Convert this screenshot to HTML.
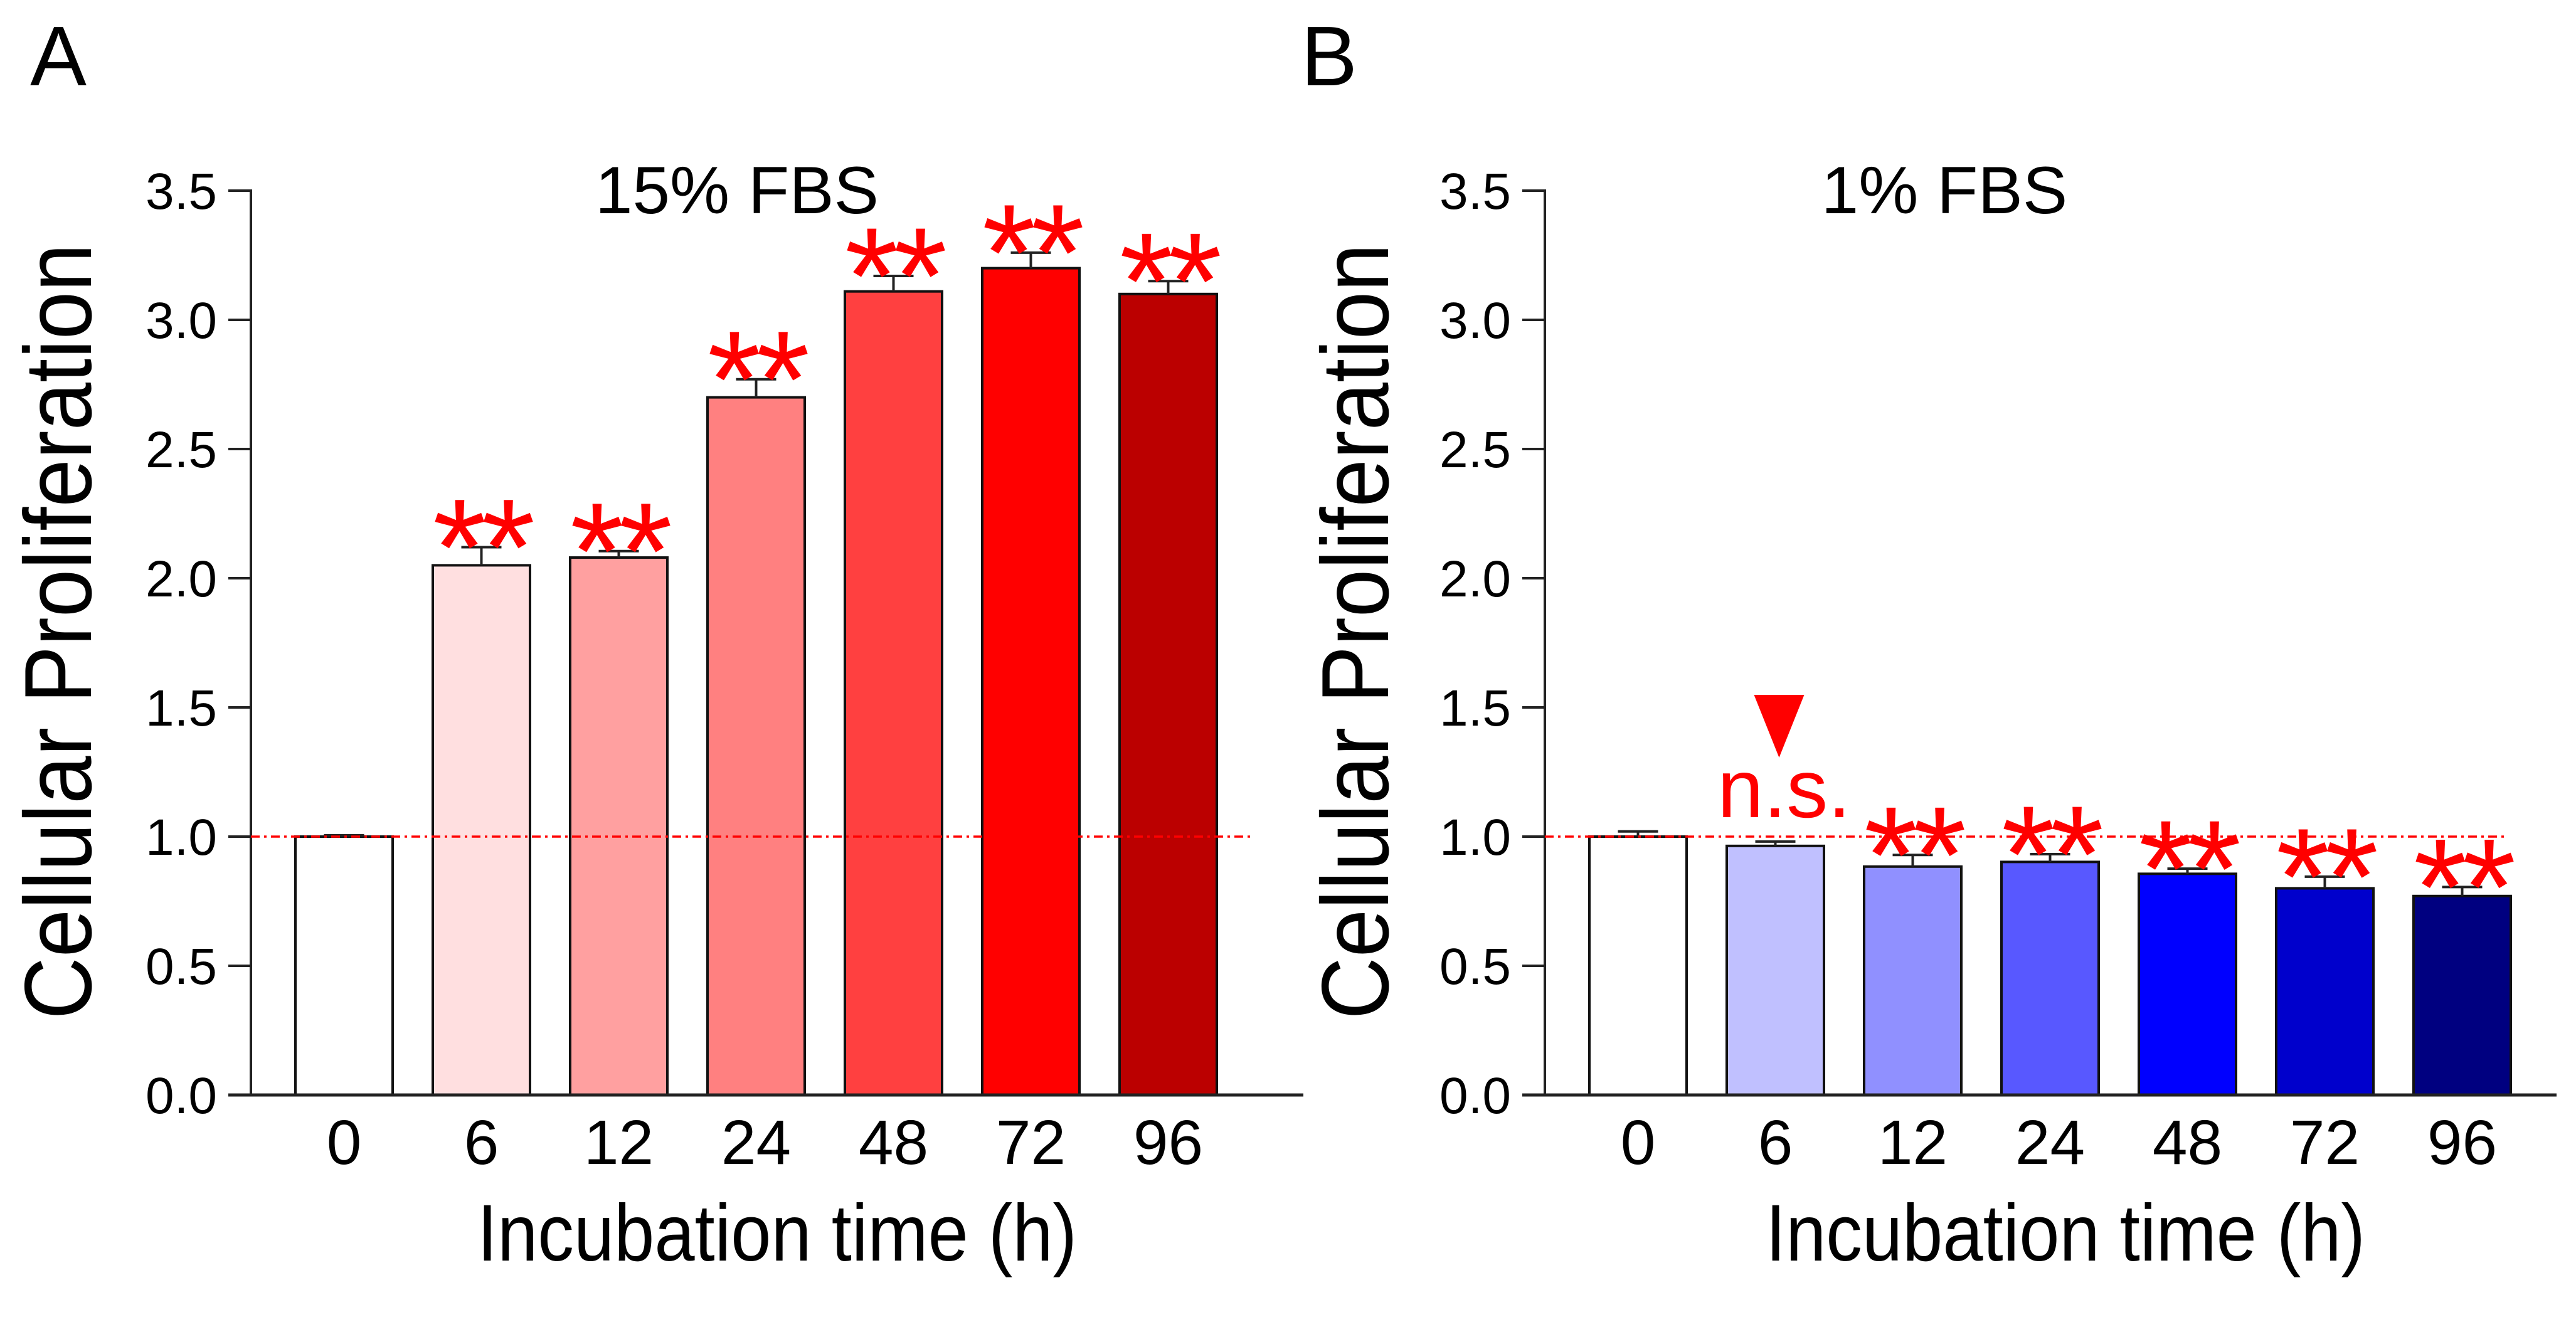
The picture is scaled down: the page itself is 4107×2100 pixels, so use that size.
<!DOCTYPE html>
<html><head><meta charset="utf-8"><style>
html,body{margin:0;padding:0;background:#fff;}
svg{display:block;font-family:"Liberation Sans",Arial,sans-serif;}
</style></head><body>
<svg id="chart" width="4107" height="2100" viewBox="0 0 4107 2100" xmlns="http://www.w3.org/2000/svg">
<rect width="4107" height="2100" fill="#fff"/>
</svg>
<script>
const categories = ["0","6","12","24","48","72","96"];
const valuesA = [1.00, 2.05, 2.08, 2.70, 3.11, 3.20, 3.10];
const errorsA = [0.005, 0.07, 0.025, 0.07, 0.06, 0.06, 0.05];
const marksA = ["", "**", "**", "**", "**", "**", "**"];
const valuesB = [1.00, 0.964, 0.884, 0.902, 0.856, 0.80, 0.77];
const errorsB = [0.02, 0.017, 0.045, 0.03, 0.02, 0.045, 0.035];
const marksB = ["", "n.s.", "**", "**", "**", "**", "**"];
const tickLabels = ["0.0","0.5","1.0","1.5","2.0","2.5","3.0","3.5"];
const tickValues = [0,0.5,1,1.5,2,2.5,3,3.5];
const colorsA = ["#ffffff","#ffdfe0","#ffa0a0","#ff8080","#ff4040","#ff0000","#bb0000"];
const colorsB = ["#ffffff","#c0c0ff","#9090ff","#5858ff","#0000ff","#0000cc","#000080"];
const refValue = 1.0;

const NS = "http://www.w3.org/2000/svg";
const svg = document.getElementById("chart");
function mk(tag, attrs, parent, text) {
  const e = document.createElementNS(NS, tag);
  for (const k in attrs) e.setAttribute(k, attrs[k]);
  if (text !== undefined) e.textContent = text;
  (parent || svg).appendChild(e);
  return e;
}
const y0 = 1746, pxPerUnit = 412;
function yScale(v) { return y0 - v * pxPerUnit; }

function panel(cfg) {
  const g = mk("g", {});
  
  
  const xScale = i => cfg.firstLeft + i * 219 + 77.5;
  const L = mk("text", {x: cfg.letterX, y: 136, "font-size": 135}, g, cfg.letter);
  
  
  const t = mk("text", {x: cfg.titleX, y: 340, "font-size": 107, "text-anchor": "middle"}, g, cfg.title);
  
  
  const yt = mk("text", {x: 0, y: 0, "font-size": 152, "text-anchor": "middle", textLength: 1237, lengthAdjust: "spacingAndGlyphs", transform: `translate(${cfg.yTitleX},1007) rotate(-90)`}, g, "Cellular Proliferation");
  
  
  const xt = mk("text", {x: cfg.xTitleX, y: 2010, "font-size": 128, "text-anchor": "middle", textLength: 956, lengthAdjust: "spacingAndGlyphs"}, g, "Incubation time (h)");
  
  
  tickValues.forEach((v, i) => {
    const y = yScale(v);
    const tk = mk("line", {x1: cfg.axisX - 36, x2: cfg.axisX, y1: y, y2: y, stroke: "#222", "stroke-width": 4}, g);
    
    
    const tl = mk("text", {x: cfg.axisX - 54, y: y + 29, "font-size": 82, "text-anchor": "end"}, g, tickLabels[i]);
    
    
  });
  cfg.values.forEach((v, i) => {
    const cx = xScale(i);
    const top = yScale(v);
    const bar = mk("rect", {x: cx - 77.5, y: top, width: 155, height: y0 - top, fill: cfg.colors[i], stroke: "#111", "stroke-width": 4}, g);
    
    
    const capY = yScale(v + cfg.errors[i]);
    const eb = mk("path", {d: `M${cx} ${top} V${capY} M${cx - 32} ${capY} H${cx + 32}`, stroke: "#222", "stroke-width": 4, fill: "none"}, g);
    
    
    const xl = mk("text", {x: cx, y: 1856, "font-size": 100, "text-anchor": "middle"}, g, categories[i]);
    
    
    const m = cfg.marks[i];
    if (m === "**") {
      const s = mk("text", {x: cx, y: capY - 48 + 124, "font-size": 220, "text-anchor": "middle", fill: "#ff0000", "letter-spacing": -8}, g, "**");
      
      
    } else if (m === "n.s.") {
      const s = mk("text", {x: cx + 14, y: 1303, "font-size": 132, "text-anchor": "middle", fill: "#ff0000"}, g, "n.s.");
      
      
      const tri = mk("path", {d: `M${cx - 34} 1108 H${cx + 46} L${cx + 6} 1208 Z`, fill: "#ff0000"}, g);
      
      
    }
  });
  const ya = mk("line", {x1: cfg.axisX, x2: cfg.axisX, y1: yScale(3.5) - 2, y2: y0 + 2, stroke: "#222", "stroke-width": 4}, g);
  
  
  const xa = mk("line", {x1: cfg.axisX - 36, x2: cfg.axisEnd, y1: y0, y2: y0, stroke: "#222", "stroke-width": 5}, g);
  
  
  const ry = yScale(refValue);
  const rl = mk("line", {x1: cfg.axisX, x2: cfg.refEnd, y1: ry, y2: ry, stroke: "#ff0000", "stroke-width": 3.5, "stroke-dasharray": "14 7 4 7"}, g);
  
  
}

panel({name: "panel-a-15pct-fbs", letter: "A", letterX: 48, title: "15% FBS", titleX: 1175, yTitleX: 145, xTitleX: 1239,
  axisX: 400, axisEnd: 2078, refEnd: 1995, firstLeft: 471, values: valuesA, errors: errorsA, marks: marksA, colors: colorsA});
panel({name: "panel-b-1pct-fbs", letter: "B", letterX: 2074, title: "1% FBS", titleX: 3100, yTitleX: 2213, xTitleX: 3293,
  axisX: 2463, axisEnd: 4076, refEnd: 3995, firstLeft: 2534, values: valuesB, errors: errorsB, marks: marksB, colors: colorsB});
</script>
</body></html>
